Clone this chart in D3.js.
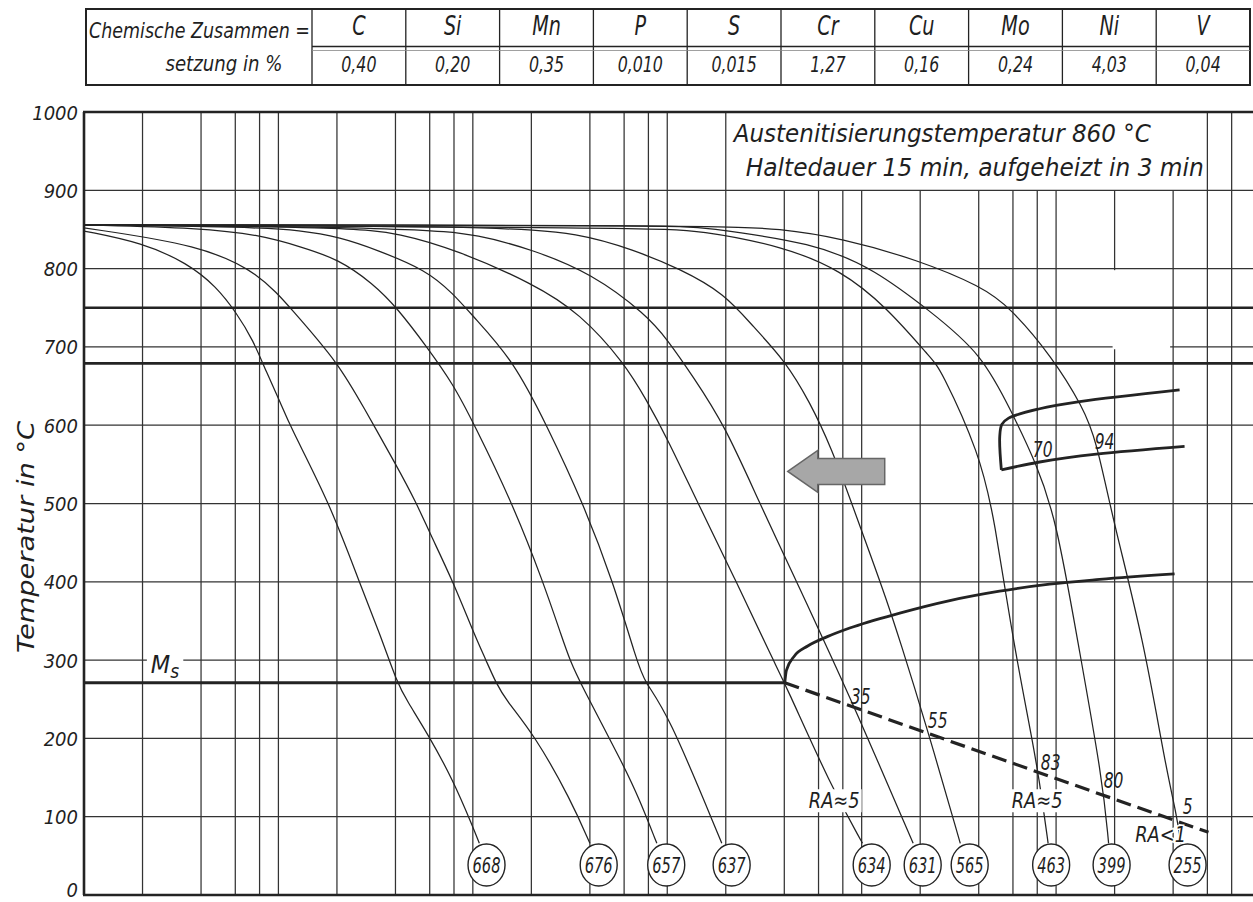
<!DOCTYPE html>
<html>
<head>
<meta charset="utf-8">
<script src="https://cdn.jsdelivr.net/npm/d3@7"></script>
<style>
  html, body { margin: 0; padding: 0; background: #fff; }
  svg { display: block; }
  text {
    font-family: "DejaVu Sans Condensed", "DejaVu Sans", sans-serif;
    font-stretch: condensed;
    font-style: italic;
    fill: #1f1f1f;
  }
</style>
</head>
<body>
<svg id="chart" width="1253" height="902"></svg>
<script>
// ---- chemical composition (%) ----
const elements = ["C", "Si", "Mn", "P", "S", "Cr", "Cu", "Mo", "Ni", "V"];
const contents = ["0,40", "0,20", "0,35", "0,010", "0,015", "1,27", "0,16", "0,24", "4,03", "0,04"];

// ---- axes ----
const tempTicks = [0, 100, 200, 300, 400, 500, 600, 700, 800, 900, 1000];
const timeGrid = [1, 2, 3, 4, 5, 10, 20, 30, 40, 50, 100, 200, 300, 400, 500,
  1000, 2000, 3000, 4000, 5000, 10000, 20000, 30000, 40000, 50000,
  100000, 200000, 300000, 400000];

// ---- cooling curves: [time in s, temperature in °C] ----
const curve668 = [[0.5,848],[1,833],[1.7,807],[2.4,777],[3.05,743],[3.7,709],[4.35,667],[5.1,630],[5.7,600],
  [9.2,500],[13.1,398],[16.6,334],[20.4,271],[22.8,249],[29.6,204],[39.5,147],[50,87],[54,66]];
const curve676 = [[0.5,852],[2,830],[4,794],[5.9,747],[10.2,679],[13.7,623],[20.4,547],
  [25.7,500],[29.8,464],[39.6,400],[50.6,334],[58.4,300],[65.7,271],[74,249],[104,204],[160,121],[200,66]];
const curve657 = [[0.5,856],[2,852],[4,843],[6.5,828],[10.2,812],[15.3,781],[20.4,750],[29.4,698],[39.5,653],
  [50.6,602],[80,500],[115,400],[145,326],[158,300],[178,271],[301,164],[361,121],[442,66]];
const curve637 = [[0.5,856],[3.6,853],[6.5,849],[10.4,840],[16,824],[28.9,798],[39.6,768],[50.6,738],[80.6,683],
  [120,600],[185,500],[263,400],[348,300],[383,271],[497,236],[954,66]];
const curve634 = [[0.5,856],[11.7,853],[21,845],[41,824],[102,781],[178,743],[302,679],[391,632],[496,585],
  [720,500],[1135,400],[1750,300],[2011,271],[3490,138],[5050,66]];
const curve631 = [[0.5,856],[26.7,852],[54,843],[102,824],[204,794],[391,741],[502,709],[679,662],[988,600],
  [1495,500],[2133,419],[3180,326],[4500,245],[9200,66]];
const curve565 = [[0.5,856],[69,854],[178,845],[334,824],[580,800],[988,768],[1381,726],[2011,683],[2703,630],
  [3508,570],[4445,500],[5631,430],[6646,380],[7845,326],[10800,215],[16080,66]];
const curve463 = [[0.5,856],[407,852],[735,849],[2004,828],[3903,798],[6726,751],[11570,683],[12600,674],
  [20230,564],[24160,479],[29900,326],[38700,185],[42450,121],[45500,66]];
const curve399 = [[0.5,856],[580,855],[735,853],[2902,833],[5905,798],[11060,747],[20720,692],[29790,615],
  [39580,551],[50150,479],[64380,326],[86760,147],[93140,66]];
const curve255 = [[0.5,856],[931,855],[1895,851],[3903,839],[9789,811],[20720,777],[28850,751],[47830,687],
  [68710,623],[80520,581],[98010,479],[140960,326],[182900,164],[209600,100],[218500,66]];

// hardness (HV) at the end of each curve and the time where it is written
const hardness = [668, 676, 657, 637, 634, 631, 565, 463, 399, 255];
const hardnessTime = [58.8, 222, 494, 1072, 5630, 10300, 17970, 47160, 96500, 237300];

// ---- transformation lines ----
const msTemp = 271;
const ac3Temp = 750;
const ac1Temp = 679;
const msShift = [[2011, 271], [304000, 80]];
const bainiteStart = [[2011,271],[2050,287],[2250,305],[2640,318],[3330,330],[4340,341],[7850,360],
  [14200,376],[25600,388],[46300,397],[83700,403],[203500,410]];
const pearliteStart = [[26150,543],[25650,585],[26300,601],[28500,609],[41160,621],[66100,630],[215900,645]];
const pearliteEnd = [[26150,543],[41160,553],[80520,563],[229000,573]];

// ---- labels on the diagram ----
const martensiteText = ["35", "55", "83", "80", "5"];
const martensiteTime = [4945, 12300, 46900, 98800, 237300];
const martensiteTemp = [254, 223, 170, 147, 114];
const austeniteText = ["RA≈5", "RA≈5", "RA<1"];
const austeniteTime = [3613, 39950, 172400];
const austeniteTemp = [121, 121, 78];
const pearliteText = ["70", "94"];
const pearliteTime = [42650, 88840];
const pearliteTemp = [570, 580];
const arrowTip = [2084, 541];
const arrowTailTime = 6570;

// ================= drawing =================
const W = 1253, H = 902;
const ink = "#232323";
const svg = d3.select("#chart");
svg.append("rect").attr("width", W).attr("height", H).attr("fill", "#fff");

const x = d3.scaleLog().domain([0.5, 5e5]).range([84, 1250.5]);
const y = d3.scaleLinear().domain([0, 1000]).range([895, 112]);

function condense(sel, k) {
  sel.each(function () {
    const L = this.getComputedTextLength();
    d3.select(this).attr("textLength", L * k).attr("lengthAdjust", "spacingAndGlyphs");
  });
}
function backing(sel, padX, padY) {
  sel.each(function () {
    const b = this.getBBox();
    d3.select(this.parentNode).insert("rect", () => this)
      .attr("x", b.x - padX).attr("y", b.y - padY)
      .attr("width", b.width + 2 * padX).attr("height", b.height + 2 * padY)
      .attr("fill", "#fff");
  });
}

// grid
const grid = svg.append("g").attr("stroke", "#333").attr("stroke-width", 1.25);
grid.selectAll("line.h").data(tempTicks.filter(d => d > 0 && d < 1000)).join("line")
  .attr("class", "h")
  .attr("x1", x(0.5)).attr("x2", W)
  .attr("y1", d => y(d)).attr("y2", d => y(d));
grid.selectAll("line.v").data(timeGrid).join("line")
  .attr("class", "v")
  .attr("x1", d => x(d)).attr("x2", d => x(d))
  .attr("y1", y(0))
  .attr("y2", d => (d > 1000 && d < 300000) ? y(900) : y(1000));

// erased spot in the grid
svg.append("rect")
  .attr("x", x(1e5) - 2).attr("width", x(2e5) - x(1e5) - 1)
  .attr("y", y(798)).attr("height", y(697) - y(798))
  .attr("fill", "#fff");

// frame and critical temperatures
const heavy = svg.append("g").attr("stroke", ink).attr("stroke-width", 2.6).attr("fill", "none");
[ac3Temp, ac1Temp].forEach(T => heavy.append("line")
  .attr("x1", x(0.5)).attr("x2", W).attr("y1", y(T)).attr("y2", y(T)));
heavy.append("line").attr("x1", x(0.5) - 1).attr("x2", W).attr("y1", y(1000)).attr("y2", y(1000));
heavy.append("line").attr("x1", x(0.5) - 1).attr("x2", W).attr("y1", y(0)).attr("y2", y(0));
heavy.append("line").attr("x1", x(0.5)).attr("x2", x(0.5)).attr("y1", y(1000)).attr("y2", y(0));

// cooling curves
const smooth = d3.line().x(d => x(d[0])).y(d => y(d[1])).curve(d3.curveBasis);
const curves = [curve668, curve676, curve657, curve637, curve634, curve631, curve565, curve463, curve399, curve255];
svg.append("g").attr("fill", "none").attr("stroke", ink).attr("stroke-width", 1.25)
  .selectAll("path").data(curves).join("path").attr("d", smooth);

// Ms, its shift, bainite start, pearlite region
heavy.append("line")
  .attr("x1", x(0.5)).attr("x2", x(bainiteStart[0][0]))
  .attr("y1", y(msTemp)).attr("y2", y(msTemp)).attr("stroke-width", 3);
const straight = d3.line().x(d => x(d[0])).y(d => y(d[1]));
svg.append("path").attr("d", straight(msShift))
  .attr("fill", "none").attr("stroke", ink).attr("stroke-width", 3.2)
  .attr("stroke-dasharray", "15 7");
const mono = d3.line().x(d => x(d[0])).y(d => y(d[1])).curve(d3.curveMonotoneX);
svg.append("path").attr("d", mono(bainiteStart))
  .attr("fill", "none").attr("stroke", ink).attr("stroke-width", 2.8);
const rounded = d3.line().x(d => x(d[0])).y(d => y(d[1])).curve(d3.curveCatmullRom.alpha(0.5));
svg.append("path").attr("d", rounded(pearliteStart))
  .attr("fill", "none").attr("stroke", ink).attr("stroke-width", 2.8).attr("stroke-linejoin", "round");
svg.append("path").attr("d", rounded(pearliteEnd))
  .attr("fill", "none").attr("stroke", ink).attr("stroke-width", 2.8);

// hardness circles
const circY = y(0) - 30;
const hv = svg.append("g").selectAll("g").data(hardness).join("g")
  .attr("transform", (d, i) => `translate(${x(hardnessTime[i])},${circY})`);
hv.append("ellipse").attr("rx", 18.5).attr("ry", 21)
  .attr("fill", "#fff").attr("stroke", ink).attr("stroke-width", 1.4);
hv.append("text").attr("text-anchor", "middle").attr("y", 8)
  .attr("font-size", 22).text(d => d)
  .attr("textLength", 28).attr("lengthAdjust", "spacingAndGlyphs");

// labels
const lab = svg.append("g");
lab.selectAll("text.m").data(martensiteText).join("text").attr("class", "m")
  .attr("x", (d, i) => x(martensiteTime[i])).attr("y", (d, i) => y(martensiteTemp[i]) + 8)
  .attr("text-anchor", "middle").attr("font-size", 21).text(d => d)
  .call(condense, 0.82);
lab.selectAll("text.p").data(pearliteText).join("text").attr("class", "p")
  .attr("x", (d, i) => x(pearliteTime[i])).attr("y", (d, i) => y(pearliteTemp[i]) + 8)
  .attr("text-anchor", "middle").attr("font-size", 21).text(d => d)
  .call(condense, 0.82);
const ra = lab.selectAll("text.ra").data(austeniteText).join("text").attr("class", "ra")
  .attr("x", (d, i) => x(austeniteTime[i])).attr("y", (d, i) => y(austeniteTemp[i]) + 8)
  .attr("text-anchor", "middle").attr("font-size", 22).text(d => d)
  .call(condense, 0.9);
ra.filter((d, i) => i < 2).call(backing, 2, -1);
ra.filter((d, i) => i === 2).attr("stroke", "#fff").attr("stroke-width", 3).attr("paint-order", "stroke");

// Ms label
const ms = lab.append("text").attr("x", x(1.35) - 17).attr("y", y(msTemp) - 10).attr("font-size", 25);
ms.append("tspan").text("M");
ms.append("tspan").attr("font-size", 19).attr("dy", 5).text("s");
backing(ms, 4, -2);

// arrow
{
  const tx = x(arrowTip[0]), ty = y(arrowTip[1]), ex = x(arrowTailTime);
  const hl = 30, hh = 21, sh = 13;
  svg.append("path")
    .attr("d", `M${tx},${ty}L${tx + hl},${ty - hh}L${tx + hl},${ty - sh}L${ex},${ty - sh}L${ex},${ty + sh}L${tx + hl},${ty + sh}L${tx + hl},${ty + hh}Z`)
    .attr("fill", "#a7a7a7").attr("stroke", "#666").attr("stroke-width", 1.5);
}

// temperature tick labels
svg.append("g").selectAll("text").data(tempTicks).join("text")
  .attr("x", 78).attr("y", d => Math.min(y(d) + 7.5, 897))
  .attr("text-anchor", "end").attr("font-size", 20).text(d => d);

// axis title
svg.append("text").attr("transform", `translate(34,537) rotate(-90)`)
  .attr("text-anchor", "middle").attr("font-size", 23)
  .attr("textLength", 232).attr("lengthAdjust", "spacingAndGlyphs")
  .text("Temperatur in °C");

// heat treatment note
svg.append("text").attr("x", x(1000) + 8).attr("y", 142).attr("font-size", 24.5)
  .attr("textLength", 417).attr("lengthAdjust", "spacingAndGlyphs")
  .text("Austenitisierungstemperatur 860 °C");
svg.append("text").attr("x", x(1000) + 20).attr("y", 176).attr("font-size", 24.5)
  .attr("textLength", 458).attr("lengthAdjust", "spacingAndGlyphs")
  .text("Haltedauer 15 min, aufgeheizt in 3 min");

// composition table
{
  const tl = 86, tr = 1250, tt = 9, tb = 85, labelR = 312;
  const colW = (tr - labelR) / elements.length;
  const tab = svg.append("g");
  const rule = tab.append("g").attr("stroke", ink).attr("fill", "none");
  rule.append("rect").attr("x", tl).attr("y", tt).attr("width", tr - tl).attr("height", tb - tt)
    .attr("stroke-width", 2);
  rule.selectAll("line.c").data(d3.range(elements.length)).join("line").attr("class", "c")
    .attr("x1", i => labelR + i * colW).attr("x2", i => labelR + i * colW)
    .attr("y1", tt).attr("y2", tb).attr("stroke-width", 1.3);
  rule.append("line").attr("x1", labelR).attr("x2", tr).attr("y1", 46.5).attr("y2", 46.5).attr("stroke-width", 1.5);
  rule.append("line").attr("x1", labelR).attr("x2", tr).attr("y1", 50.5).attr("y2", 50.5)
    .attr("stroke-width", 0.8).attr("stroke", "#888");

  tab.append("text").attr("x", 89).attr("y", 38).attr("font-size", 21)
    .attr("textLength", 221).attr("lengthAdjust", "spacingAndGlyphs")
    .text("Chemische Zusammen =");
  tab.append("text").attr("x", 224).attr("y", 71).attr("font-size", 21).attr("text-anchor", "middle")
    .attr("textLength", 117).attr("lengthAdjust", "spacingAndGlyphs")
    .text("setzung in %");
  tab.selectAll("text.el").data(elements).join("text").attr("class", "el")
    .attr("x", (d, i) => labelR + (i + 0.5) * colW).attr("y", 35)
    .attr("text-anchor", "middle").attr("font-size", 26).text(d => d)
    .call(condense, 0.82);
  tab.selectAll("text.val").data(contents).join("text").attr("class", "val")
    .attr("x", (d, i) => labelR + (i + 0.5) * colW).attr("y", 72)
    .attr("text-anchor", "middle").attr("font-size", 22).text(d => d)
    .call(condense, 0.8);
}
</script>
</body>
</html>
